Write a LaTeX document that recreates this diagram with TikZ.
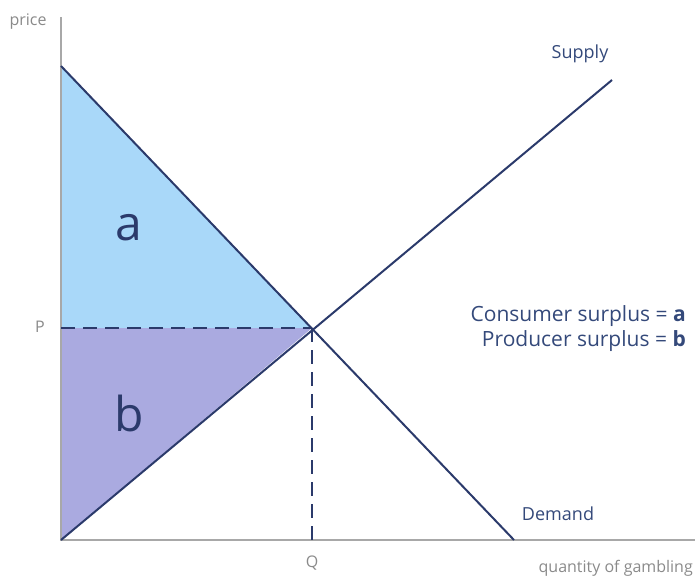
\documentclass[tikz,border=0pt]{standalone}
\usepackage{fontspec}
\setmainfont{Open Sans}
\definecolor{navy}{HTML}{2B3A6B}
\definecolor{txt}{HTML}{34497A}
\definecolor{axisgrey}{HTML}{A8A8A8}
\definecolor{lblgrey}{HTML}{8A8A8A}
\definecolor{fillA}{HTML}{A9D8F9}
\definecolor{fillB}{HTML}{AAAAE0}
\tikzset{
  curve/.style={draw=navy, line width=2pt},
  axisline/.style={draw=axisgrey, line width=2pt},
  guide/.style={draw=navy, line width=2pt, dash pattern=on 14pt off 8pt},
  axislabel/.style={text=lblgrey, font=\fontsize{16}{19}\selectfont, inner sep=0pt},
  curvelabel/.style={text=txt, font=\fontsize{18}{21}\selectfont, inner sep=0pt},
  arealabel/.style={text=navy, font=\fontsize{48}{54}\selectfont, inner sep=0pt},
}
\begin{document}
\begin{tikzpicture}[x=1pt,y=-1pt]
\useasboundingbox (0,0) rectangle (695,575);
\coordinate (O) at (61,540);
\coordinate (Ytop) at (61,17);
\coordinate (Xend) at (695,540);
\coordinate (Dtop) at (61,66);
\coordinate (Dend) at (514,540);
\coordinate (Send) at (612,80);
\coordinate (E) at (312,328);
\coordinate (Pax) at (61,328);
\coordinate (Qax) at (312,540);
% areas
\fill[fillA] (Dtop) -- (E) -- (Pax) -- cycle;
\fill[fillB] (Pax) -- (E) -- (O) -- cycle;
% axes
\draw[axisline] (Ytop) -- (O) -- (Xend);
% guides
\draw[guide] (Pax) -- (E);
\draw[guide] (E) -- (Qax);
% curves
\draw[curve] (Dtop) -- (Dend);
\draw[curve] (O) -- (Send);
% labels
\node[axislabel] (price) at (28,22) {price};
\node[axislabel] (P) at (40,327) {P};
\node[axislabel] (Q) at (312,563) {Q};
\node[axislabel, anchor=east] (qty) at (693,568) {quantity of gambling};
\node[curvelabel] (supply) at (580,54) {Supply};
\node[curvelabel] (demand) at (558,514) {Demand};
\node[arealabel] (a) at (129,228) {a};
\node[arealabel] (b) at (129,413) {b};
\node[text=txt, font=\fontsize{21}{25}\selectfont, align=right, anchor=east, inner sep=0pt] (legend) at (686,329)
  {Consumer surplus = \textbf{a}\\Producer surplus = \textbf{b}};
\end{tikzpicture}
\end{document}
